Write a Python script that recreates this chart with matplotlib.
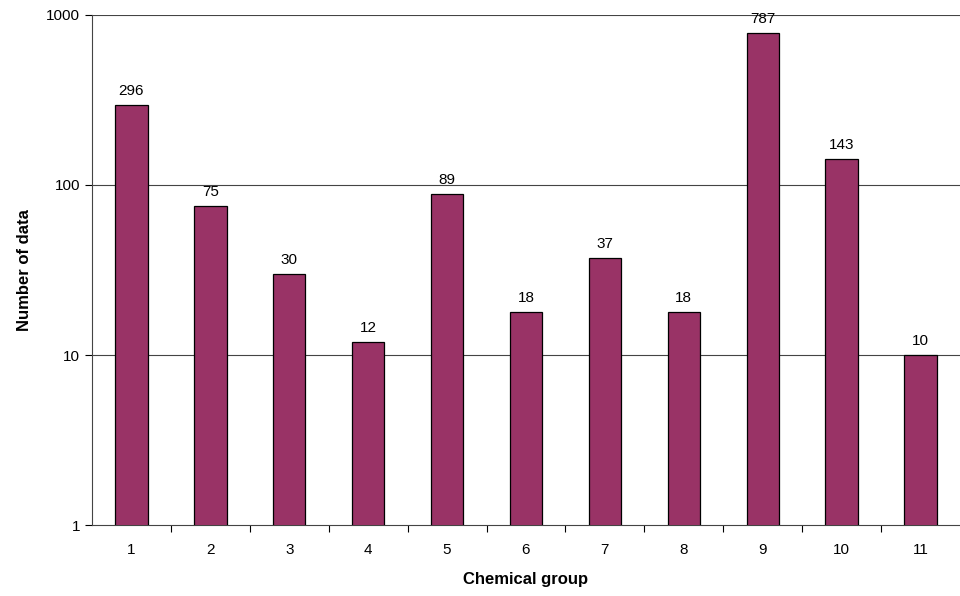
import matplotlib
matplotlib.use("Agg")
import matplotlib.pyplot as plt
from matplotlib.ticker import FixedLocator, NullLocator

plt.rcParams['font.family'] = ['Liberation Sans', 'DejaVu Sans']

groups = ["1", "2", "3", "4", "5", "6", "7", "8", "9", "10", "11"]
counts = [296, 75, 30, 12, 89, 18, 37, 18, 787, 143, 10]
y_ticks = [1, 10, 100, 1000]
y_tick_labels = ["1", "10", "100", "1000"]

fig = plt.figure(figsize=(9.6, 5.96), dpi=100)
ax = fig.add_axes([0.0958, 0.119, 0.9042, 0.856])

x = list(range(1, len(groups) + 1))
ax.set_yscale("log")
ax.bar(x, counts, width=0.41, color="#993366", edgecolor="black", linewidth=0.9, zorder=3)

ax.set_ylim(1, 1000)
ax.set_xlim(0.5, len(groups) + 0.5)

ax.yaxis.set_major_locator(FixedLocator(y_ticks))
ax.set_yticklabels(y_tick_labels)
ax.yaxis.set_minor_locator(NullLocator())
ax.set_xticks(x)
ax.set_xticklabels(groups)
ax.tick_params(axis="x", length=0, pad=13, labelsize=11)
ax.set_xticks([i + 0.5 for i in x[:-1]], minor=True)
ax.tick_params(axis="x", which="minor", length=5, width=0.8, direction="out")
ax.tick_params(axis="y", length=5, width=0.8, direction="out", labelsize=11)

for val in y_ticks[1:]:
    ax.axhline(val, color="#444444", linewidth=0.8, zorder=1)

for s in ["top", "right"]:
    ax.spines[s].set_visible(False)
ax.spines["left"].set_color("#444444")
ax.spines["bottom"].set_color("#444444")

for xi, c in zip(x, counts):
    ax.annotate(str(c), (xi, c), xytext=(0, 5), textcoords="offset points",
                ha="center", va="bottom", fontsize=11, zorder=4)

ax.set_xlabel("Chemical group", fontsize=12, fontweight="bold", labelpad=11)
ax.set_ylabel("Number of data", fontsize=12, fontweight="bold", labelpad=10)

fig.savefig("out.png", dpi=100)
